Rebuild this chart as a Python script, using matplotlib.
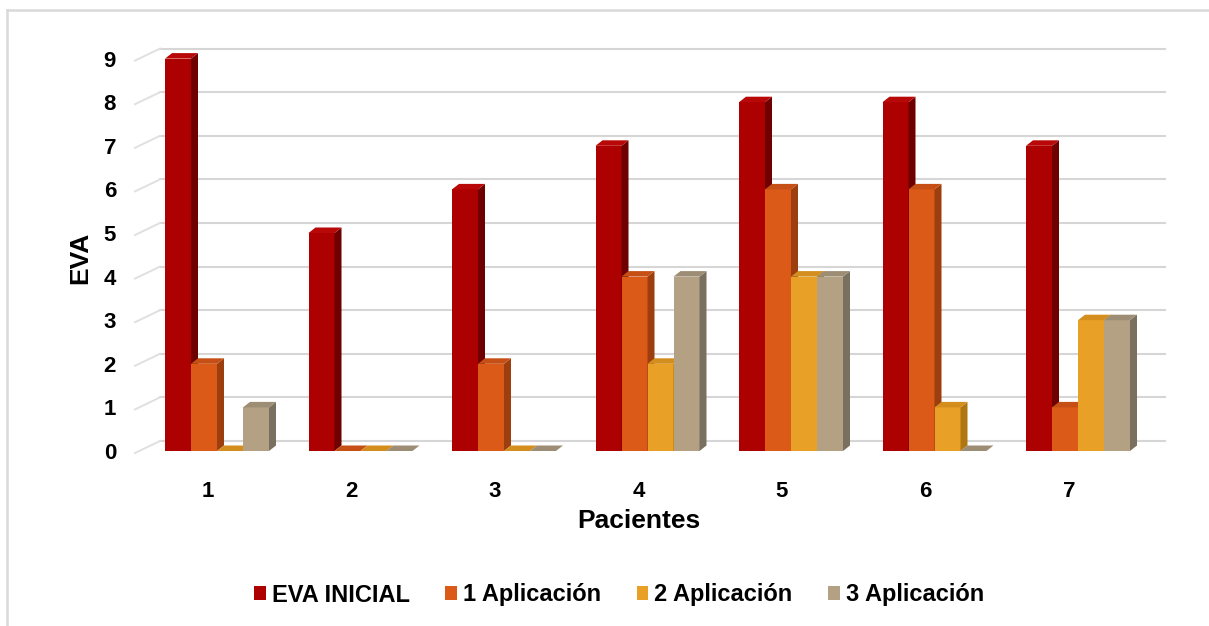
import matplotlib
matplotlib.use("Agg")
import matplotlib.pyplot as plt
from matplotlib.patches import Rectangle, Polygon, Patch
from matplotlib.lines import Line2D

plt.rcParams['font.family'] = ['Liberation Sans', 'DejaVu Sans']
plt.rcParams['font.weight'] = 'bold'

# --- datos ---
pacientes = [1, 2, 3, 4, 5, 6, 7]
series = ['EVA INICIAL', '1 Aplicación', '2 Aplicación', '3 Aplicación']
eva_inicial = [9, 5, 6, 7, 8, 8, 7]
aplic_1 = [2, 0, 2, 4, 6, 6, 1]
aplic_2 = [0, 0, 0, 2, 4, 1, 3]
aplic_3 = [1, 0, 0, 4, 4, 0, 3]
valores = [eva_inicial, aplic_1, aplic_2, aplic_3]
y_ticks = list(range(10))

# colores: cara frontal, lateral, superior
frente = ['#ad0000', '#dc5a18', '#e9a026', '#b4a082']
lateral = ['#6e0000', '#9c3e0e', '#b07612', '#7a705f']
arriba = ['#b80808', '#c54f14', '#d48e1e', '#9d8d74']

# --- geometria en pixeles ---
W, H = 1209, 626
X0, SX = 208.0, 143.5     # centro del paciente 1, pixeles por categoria
Y0, SY = 451.0, 43.6      # base de las barras, pixeles por unidad
L, R, T, B = 130, 1175, 25, 470


def xd(px):
    return (px - X0) / SX + 1


def yd(py):
    return (Y0 - py) / SY


fig = plt.figure(figsize=(W / 100, H / 100), dpi=100)
ax = fig.add_axes([L / W, 1 - B / H, (R - L) / W, (B - T) / H])
ax.set_xlim(xd(L), xd(R))
ax.set_ylim(yd(B), yd(T))
for s in ax.spines.values():
    s.set_visible(False)

# pared del fondo con lineas de division
wall_dy = 10 / SY
x_left, x_wall, x_end = xd(135), xd(160), xd(1165)
for v in y_ticks:
    ax.plot([x_wall, x_end], [v + wall_dy, v + wall_dy], color='#d6d6d6', lw=1.5,
            zorder=1, clip_on=False)
    ax.plot([x_left, x_wall], [v - 2 / SY, v + wall_dy], color='#e0e0e0', lw=1.4,
            zorder=1, clip_on=False)

# barras 3D
BW = 26 / SX
OFF = -43 / SX
DX, DY = 7 / SX, 5.5 / SY
for j, p in enumerate(pacientes):
    for i, vals in enumerate(valores):
        v = vals[j]
        x0 = p + OFF + i * BW
        x1 = x0 + BW
        z = 3 + j * 4 + i
        ax.add_patch(Rectangle((x0, 0), BW, v, facecolor=frente[i], edgecolor='none',
                               zorder=z, clip_on=False))
        ax.add_patch(Polygon([(x1, 0), (x1 + DX, DY), (x1 + DX, v + DY), (x1, v)],
                             closed=True, facecolor=lateral[i], edgecolor='none',
                             zorder=z, clip_on=False))
        ax.add_patch(Polygon([(x0, v), (x1, v), (x1 + DX, v + DY), (x0 + DX, v + DY)],
                             closed=True, facecolor=arriba[i], edgecolor='none',
                             zorder=z, clip_on=False))

# ejes
ax.set_xticks(pacientes)
ax.set_xticklabels([str(p) for p in pacientes], fontsize=16, fontweight='bold')
ax.set_yticks(y_ticks)
ax.set_yticklabels([str(v) for v in y_ticks], fontsize=16, fontweight='bold')
ax.tick_params(axis='both', length=0)
ax.tick_params(axis='y', pad=10)
ax.tick_params(axis='x', pad=8)

fig.text(639 / W, 1 - 521 / H, 'Pacientes', ha='center', va='center',
         fontsize=19, fontweight='bold')
fig.text(80 / W, 1 - 258 / H, 'EVA', ha='center', va='center', rotation=90,
         fontsize=19, fontweight='bold')

# leyenda
handles = [Patch(facecolor=c, edgecolor='none') for c in frente]
fig.legend(handles, series, loc='center', bbox_to_anchor=(619 / W, 1 - 595 / H),
           ncol=4, frameon=False, prop={'size': 17, 'weight': 'bold'},
           handlelength=0.5, handleheight=0.5, handletextpad=0.25,
           columnspacing=1.5)

# marco exterior
fig.add_artist(Line2D([7 / W, 7 / W], [0, 1 - 10 / H], color='#d9d9d9', lw=1.8))
fig.add_artist(Line2D([7 / W, 1], [1 - 10 / H, 1 - 10 / H], color='#d9d9d9', lw=1.8))

fig.savefig('out.png', dpi=100)
